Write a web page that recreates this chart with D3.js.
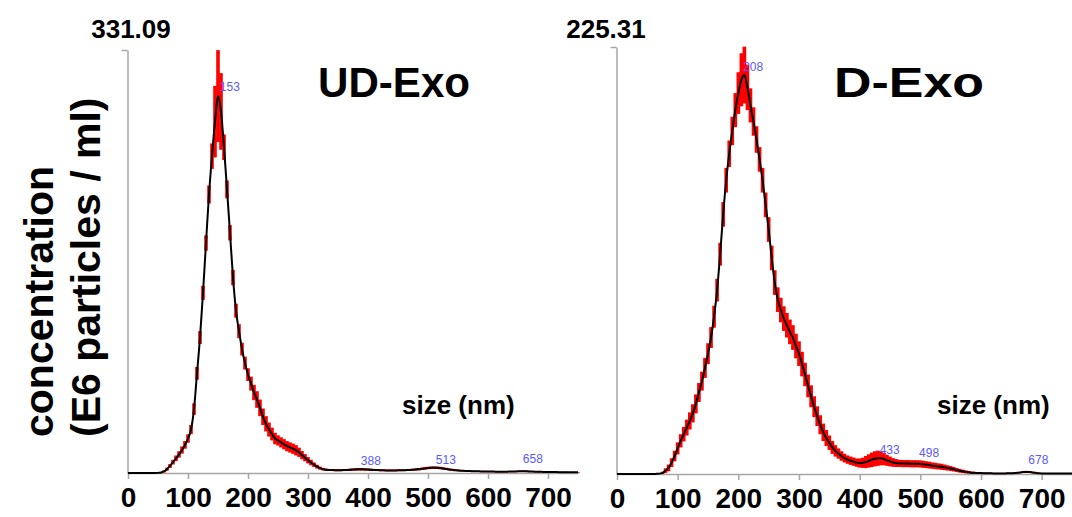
<!DOCTYPE html>
<html>
<head>
<meta charset="utf-8">
<script src="https://cdn.jsdelivr.net/npm/d3@7/dist/d3.min.js"></script>
<style>
  body { margin: 0; background: #fff; }
  svg { display: block; font-family: "Liberation Sans", Arial, sans-serif; }
</style>
</head>
<body>
<svg width="1072" height="517"></svg>
<script>
// DATA  (size bins every 5 nm, 0..750)

var sizes = d3.range(0, 755, 5);
var xTicks = [0, 100, 200, 300, 400, 500, 600, 700];

var udMax = 331.09;
var udMean = [0,0,0,0,0,0,0,0,0,0,0.1,0.4,
  1.2,3,5.5,8.5,11.5,14.5,18,22,27,34,
  50,78,106,141,180,218,248,275,295,283,
  255,222,188,153,127,111,97,86,77,70,
  63,57.5,51,44,38.5,34,30.5,27,25.5,24,
  22.5,21,20,19,17.8,16.2,14,12,10,8.2,
  6.5,5,3.8,3,2.6,2.4,2.3,2.2,2.2,2.2,
  2.3,2.4,2.5,2.7,2.8,2.9,2.9,2.8,2.7,2.5,
  2.4,2.3,2.2,2.1,2.0,2.0,2.0,2.0,2.1,2.1,
  2.2,2.3,2.4,2.6,2.8,3.0,3.3,3.6,3.9,4.1,
  4.2,4.1,3.9,3.6,3.2,2.8,2.5,2.2,2.0,1.8,
  1.7,1.6,1.5,1.4,1.3,1.3,1.2,1.2,1.1,1.1,
  1.1,1.0,1.0,1.0,1.0,1.1,1.1,1.2,1.3,1.4,
  1.4,1.3,1.2,1.1,1.0,0.9,0.9,0.8,0.8,0.7,
  0.7,0.7,0.6,0.6,0.6,0.5,0.5,0.5,0.5];
var udErr = [0,0,0,0,0,0,0,0,0,0,0.2,0.4,
  0.8,1.2,1.5,1.8,2.2,2.5,2.8,3,3.3,3.6,
  4.5,5,5,5.5,6,7,10,28,36,30,
  10,7,6,6,5.5,5.5,5,5,5,5.5,
  6,6.5,6.5,6.5,6,5.5,5,4.5,4,4,
  4,4,4,4,4,3.6,3.2,2.8,2.5,2.2,
  1.8,1.5,1.2,1,0.9,0.8,0.8,0.8,0.8,0.8,
  0.8,0.8,0.9,0.9,1,1,1,1,0.9,0.9,
  0.8,0.8,0.8,0.7,0.7,0.7,0.7,0.7,0.7,0.7,
  0.7,0.7,0.8,0.8,0.9,0.9,1,1,1,1,
  1,1,1,0.9,0.9,0.8,0.8,0.7,0.7,0.6,
  0.6,0.6,0.5,0.5,0.5,0.5,0.5,0.5,0.5,0.5,
  0.5,0.5,0.5,0.5,0.5,0.5,0.5,0.5,0.5,0.6,
  0.6,0.6,0.5,0.5,0.5,0.4,0.4,0.4,0.4,0.4,
  0.4,0.4,0.4,0.4,0.4,0.3,0.3,0.3,0.3];
var udPeaks = [153, 388, 513, 658];
var udPeakVals = [296, 3, 4, 5];

var dMax = 225.31;
var dMean = [0,0,0,0,0,0,0,0,0,0,0,0,0,0.1,
  0.2,0.6,1.8,3.2,6,9.5,13.5,17.5,21,24.5,
  28,32,37,43,49,56,63.5,72,83,97,
  116,137,155,169,181,192,201,208,210.5,204,
  194.5,186,176.5,166,155,142,129,114,101,92,
  86.5,82,78.5,75,72,67.5,63.5,58,52.5,46.5,
  41,35.5,30.5,26,22,19,16.5,14,12.2,10.8,
  9.5,8.4,7.6,7,6.5,6,5.8,5.9,6.3,6.9,
  7.5,8,8.3,8.3,7.9,7.2,6.6,6.1,5.8,5.6,
  5.5,5.5,5.5,5.4,5.4,5.4,5.3,5.1,4.9,4.7,
  4.4,4.2,4,3.8,3.5,3.2,2.9,2.5,2.1,1.7,
  1.4,1.1,0.9,0.7,0.6,0.5,0.5,0.4,0.4,0.4,
  0.3,0.3,0.3,0.3,0.3,0.4,0.4,0.5,0.6,0.8,
  1.0,1.1,1.0,0.8,0.6,0.4,0.3,0.2,0.2,0.2,
  0.2,0.2,0.2,0.2,0.2,0.2,0.2];
var dErr = [0,0,0,0,0,0,0,0,0,0,0,0,0,0.1,
  0.3,0.6,1.2,1.8,2.3,2.8,3.2,3.5,3.8,4.2,
  4.5,4.8,5,5,5,5.3,5.5,5.5,5.8,6,
  6,6.5,6.5,7,7.5,9,11,14,15,12,
  9,7.5,7,6.5,6.5,6.5,6.5,6.5,6.5,6.5,
  6.5,6.5,6.5,6.5,6.5,6.5,6.5,6.5,6.2,6,
  5.8,5.5,5.2,5,4.6,4.2,3.8,3.4,3,2.7,
  2.5,2.3,2.2,2.2,2.2,2.2,2.4,2.7,3.2,3.5,
  3.8,4,4,3.7,3.3,2.9,2.6,2.3,2.1,1.9,
  1.9,1.9,1.9,1.9,1.9,1.9,1.9,1.9,1.8,1.8,
  1.7,1.7,1.6,1.6,1.5,1.4,1.3,1.2,1.1,1,
  0.9,0.8,0.7,0.6,0.5,0.4,0.4,0.4,0.3,0.3,
  0.3,0.3,0.3,0.3,0.3,0.3,0.3,0.3,0.4,0.4,
  0.5,0.6,0.5,0.4,0.3,0.3,0.3,0.3,0.3,0.3,
  0.2,0.2,0.2,0.2,0.2,0.2,0.2];
var dPeaks = [208, 433, 498, 678];
var dPeakVals = [210.5, 8.2, 6.6, 3.4];

// SETUP

var svg = d3.select("svg");
var axisColor = "#a6a6a6";

function panel(opt) {
  var x = d3.scaleLinear().domain([0, 750]).range(opt.xr),
      y = d3.scaleLinear().domain([0, opt.max]).range(opt.yr);
  var g = svg.append("g");
  var data = sizes.map(function (s, i) {
    return { s: s, m: opt.mean[i], e: opt.err[i] };
  });

  // x axis
  var xa = g.append("g")
    .attr("transform", "translate(0," + opt.yr[0] + ")")
    .call(d3.axisBottom(x).tickValues(xTicks).tickSize(6).tickSizeOuter(0));
  xa.select(".domain").attr("stroke", axisColor).attr("stroke-width", 1.5);
  xa.selectAll(".tick line").attr("stroke", axisColor).attr("stroke-width", 1.5);
  xa.selectAll(".tick text")
    .attr("y", 14).attr("dy", "0.71em")
    .style("font-size", "28px").style("font-weight", "bold").attr("fill", "#000");

  // y axis (only the top tick)
  var ya = g.append("g")
    .attr("transform", "translate(" + (opt.xr[0] - 0.5) + ",0)")
    .call(d3.axisLeft(y).tickValues([opt.max]).tickFormat("").tickSize(6).tickSizeOuter(0));
  ya.select(".domain").attr("stroke", axisColor).attr("stroke-width", 1.5);
  ya.selectAll(".tick line").attr("stroke", axisColor).attr("stroke-width", 1.5);

  g.append("text")
    .attr("x", opt.maxX).attr("y", 38)
    .attr("text-anchor", "middle")
    .style("font-size", "26px").style("font-weight", "bold")
    .text(opt.max.toFixed(2));

  // red error bars
  var bw = x(5) - x(0) + 0.6;
  g.selectAll(".bar")
    .data(data.filter(function (d) { return d.e > 0; }))
    .enter().append("rect")
    .attr("class", "bar")
    .attr("x", function (d) { return x(d.s) - bw / 2; })
    .attr("width", bw)
    .attr("y", function (d) { return y(d.m + d.e); })
    .attr("height", function (d) { return Math.max(0, y(Math.max(0, d.m - d.e)) - y(d.m + d.e)); })
    .attr("fill", "#ff0000");

  // mean line
  g.append("path")
    .datum(data)
    .attr("fill", "none")
    .attr("stroke", "#000")
    .attr("stroke-width", 2)
    .attr("d", d3.line()
      .x(function (d) { return x(d.s); })
      .y(function (d) { return y(d.m); })
      .curve(d3.curveMonotoneX));

  // peak labels
  g.selectAll(".peak")
    .data(opt.peaks)
    .enter().append("text")
    .attr("class", "peak")
    .attr("x", function (d) { return x(d); })
    .attr("y", function (d, i) { return y(opt.peakVals[i]) - 4; })
    .style("font-size", "12px")
    .attr("fill", "#5a5aff")
    .text(function (d) { return d; });

  g.append("text")
    .attr("x", opt.titleX).attr("y", 97)
    .attr("textLength", opt.titleW).attr("lengthAdjust", "spacingAndGlyphs")
    .style("font-size", "43px").style("font-weight", "bold")
    .text(opt.title);

  g.append("text")
    .attr("x", opt.sizeX).attr("y", 414)
    .style("font-size", "26px").style("font-weight", "bold")
    .text("size (nm)");
}

panel({ xr: [128, 578], yr: [473, 50], max: udMax, mean: udMean, err: udErr,
  peaks: udPeaks, peakVals: udPeakVals, maxX: 131, title: "UD-Exo", titleX: 318, titleW: 152, sizeX: 402 });
panel({ xr: [617, 1072], yr: [474, 47], max: dMax, mean: dMean, err: dErr,
  peaks: dPeaks, peakVals: dPeakVals, maxX: 606, title: "D-Exo", titleX: 834, titleW: 150, sizeX: 937 });

// y label
var yl = svg.append("text")
  .attr("transform", "translate(53,437) rotate(-90)")
  .style("font-size", "41px").style("font-weight", "bold");
yl.append("tspan").attr("x", 0).attr("y", 0).text("concentration");
yl.append("tspan").attr("x", 0).attr("dy", 47).text("(E6 particles / ml)");
</script>
</body>
</html>
